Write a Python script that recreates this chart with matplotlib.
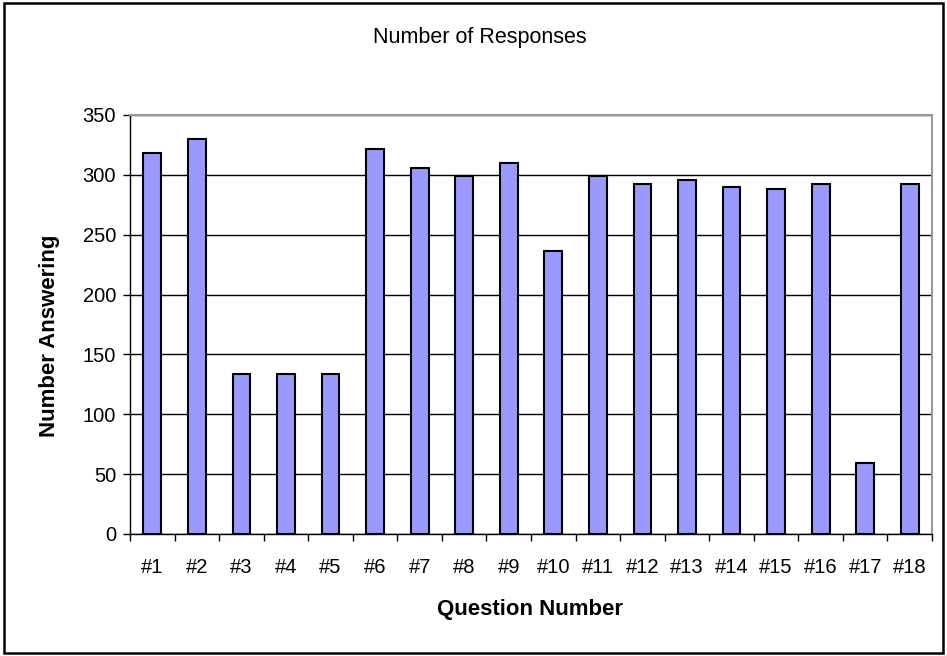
import numpy as np
import matplotlib.pyplot as plt
from matplotlib.patches import Rectangle

plt.rcParams['font.family'] = ['Liberation Sans', 'DejaVu Sans']

# data
questions = ['#%d' % i for i in range(1, 19)]
responses = [318, 330, 134, 134, 134, 322, 306, 299, 310, 236,
             299, 292, 296, 290, 288, 292, 59, 292]

fig = plt.figure(figsize=(9.47, 6.56), dpi=100)
ax = fig.add_axes([0.1373, 0.186, 0.8469, 0.6387])

x = np.arange(len(questions))
ax.bar(x, responses, width=0.4, color='#9999ff', edgecolor='black',
       linewidth=1.5, zorder=3)

ax.set_xlim(-0.5, len(questions) - 0.5)
ax.set_ylim(0, 350)
ax.set_yticks(range(0, 351, 50))
ax.set_xticks(x)
ax.set_xticklabels(questions)
ax.set_xticks(np.arange(-0.5, len(questions), 1), minor=True)
ax.tick_params(axis='x', which='major', length=0, pad=17, labelsize=14.5)
ax.tick_params(axis='x', which='minor', length=5, width=1, direction='out')
ax.tick_params(axis='y', length=5, width=1, direction='out', labelsize=14.5, pad=5)

ax.yaxis.grid(True, color='black', linewidth=1, zorder=0)
ax.set_axisbelow(True)
for s in ['top', 'right']:
    ax.spines[s].set_color('#999999')
    ax.spines[s].set_linewidth(1.5)
for s in ['left', 'bottom']:
    ax.spines[s].set_color('black')
    ax.spines[s].set_linewidth(1)

fig.text(530 / 947, 1 - 610 / 656, 'Question Number', ha='center', va='center',
         fontsize=16, fontweight='bold')
fig.text(50 / 947, 1 - 336 / 656, 'Number Answering', ha='center', va='center',
         fontsize=16, fontweight='bold', rotation=90)
fig.text(480 / 947, 1 - 37 / 656, 'Number of Responses', ha='center', va='center',
         fontsize=15.5)

# outer chart border
fig.patches.append(Rectangle((0.004, 0.005), 0.992, 0.99, transform=fig.transFigure,
                             fill=False, edgecolor='black', linewidth=1.8))

fig.savefig('out.png', dpi=100)
